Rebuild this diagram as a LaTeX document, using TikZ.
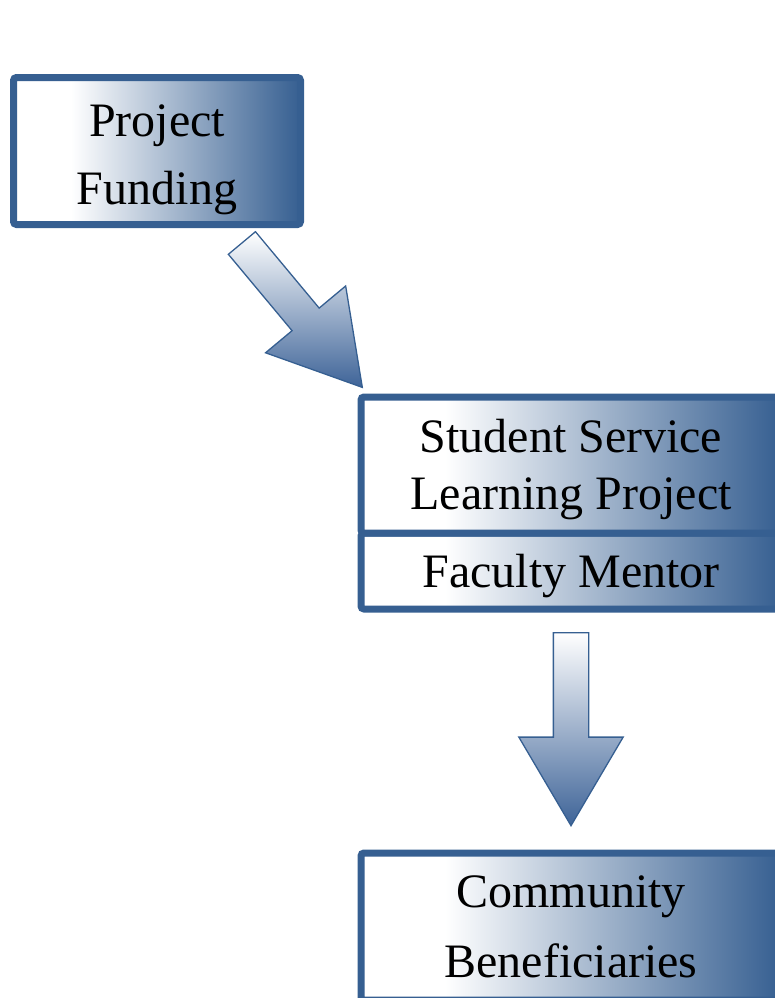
\documentclass[tikz,border=0pt]{standalone}
\usepackage{fontspec}
\setmainfont{Liberation Serif}
\usetikzlibrary{shapes.arrows}
\definecolor{boxblue}{RGB}{54,95,145}
\definecolor{arrowblue}{RGB}{62,100,152}
\pgfdeclarehorizontalshading{stagefade}{100bp}{color(0bp)=(white); color(35bp)=(white); color(75bp)=(boxblue); color(100bp)=(boxblue)}
\tikzset{
  stage/.style={draw=boxblue,line width=7pt,rounded corners=3pt,shading=stagefade,inner sep=0pt},
  stagetext/.style={align=center,font=\fontsize{48}{68}\selectfont},
  flow/.style={single arrow,draw=boxblue,line width=1.3pt,top color=white,bottom color=arrowblue,
    inner xsep=0pt,inner ysep=17pt,minimum width=0pt,single arrow head extend=34.5pt,
    single arrow tip angle=61,sloped,allow upside down,pos=0,anchor=tail}
}

\begin{document}
\begin{tikzpicture}[x=1pt,y=-1pt]
  \useasboundingbox (0,0) rectangle (775,998);

  \node[stage,minimum width=287,minimum height=147] (fund) at (157,151) {};
  \node[stage,minimum width=420,minimum height=76] (mentor) at (571,571) {};
  \node[stage,minimum width=420,minimum height=136] (sslp) at (571,465) {};
  \node[stage,minimum width=420,minimum height=147] (comm) at (571,926.5) {};

  \node[stagetext] (fundtxt) at ([yshift=-8.5]fund.center) {Project\\Funding};
  \node[stagetext,font=\fontsize{48}{57}\selectfont] (sslptxt) at ([yshift=-5]sslp.center) {Student Service\\Learning Project};
  \node[stagetext] (mentortxt) at ([yshift=-5.5]mentor.center) {Faculty Mentor};
  \node[stagetext,font=\fontsize{48}{70}\selectfont] (commtxt) at (comm.center) {Community\\Beneficiaries};

  \coordinate (fundout) at (241.5,242.5);
  \coordinate (sslpin) at (362,387);
  \coordinate (mentorout) at (571,632);
  \coordinate (commin) at (571,825);

  \path (fundout) -- (sslpin) node[flow,minimum height=188] (flowa) {};
  \path (mentorout) -- (commin) node[flow,minimum height=193] (flowb) {};
\end{tikzpicture}
\end{document}
